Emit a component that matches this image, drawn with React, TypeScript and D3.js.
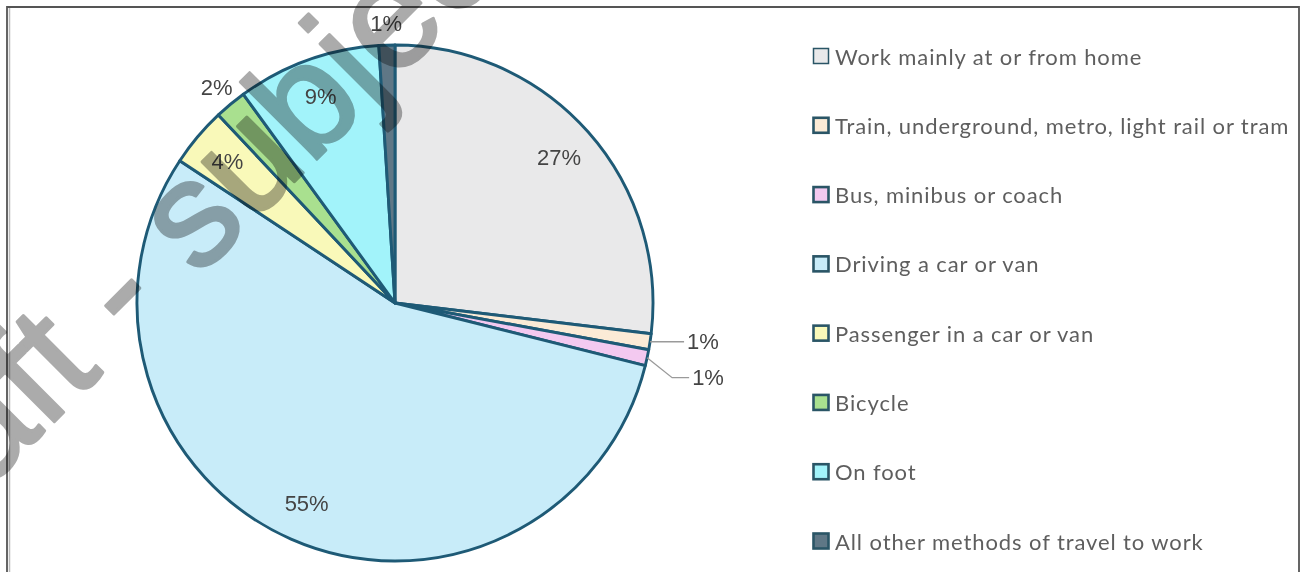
import React from "react";
import * as d3 from "d3";

const categories = [
  "Work mainly at or from home",
  "Train, underground, metro, light rail or tram",
  "Bus, minibus or coach",
  "Driving a car or van",
  "Passenger in a car or van",
  "Bicycle",
  "On foot",
  "All other methods of travel to work",
];
const values = [26.9, 1.0, 1.0, 55.4, 3.7, 2.0, 9.0, 1.0];
const pctLabels = ["27%", "1%", "1%", "55%", "4%", "2%", "9%", "1%"];
const colors = ["#e9e9ea", "#fbebd6", "#f3c9f0", "#c8ecf9", "#f9f9b9", "#a9e08f", "#a2f3fa", "#5f7786"];

const W = 1304;
const H = 572;
const CX = 395;
const CY = 303;
const R = 258;

export default function App() {
  const data = categories.map((c, i) => ({ c, v: values[i], label: pctLabels[i], color: colors[i], i }));
  const pie = d3.pie<any>().sort(null).value((d: any) => d.v).startAngle(0).endAngle(2 * Math.PI);
  const arcs = pie(data);
  const arc = d3.arc<any>().innerRadius(0).outerRadius(R);
  const inLabel = d3.arc<any>().innerRadius(R * 0.85).outerRadius(R * 0.85);
  const outLabel = d3.arc<any>().innerRadius(R * 1.085).outerRadius(R * 1.085);
  const outside = new Set([5, 7]);
  const leader = new Set([1, 2]);

  const legendY = d3.scalePoint<number>().domain(d3.range(categories.length)).range([56, 541]);

  return (
    <svg width={W} height={H} style={{ position: "absolute", left: 0, top: 0, background: "#fff" }} fontFamily="'Liberation Sans', Arial, sans-serif">
      <rect x={0} y={0} width={W} height={H} fill="#fff" />
      <path d={`M7,${H} V7 H1299 V${H}`} fill="none" stroke="#555" strokeWidth={1.8} />
      <line x1={9.5} y1={8} x2={9.5} y2={H} stroke="#bbb" strokeWidth={1.5} />
      <g transform={`translate(${CX},${CY})`}>
        {arcs.map((a, k) => (
          <path key={k} d={arc(a) as string} fill={a.data.color} stroke="#1e5a76" strokeWidth={2.9} strokeLinejoin="round" />
        ))}
        {arcs.map((a, k) => {
          if (leader.has(a.data.i)) return null;
          const [x, y] = outside.has(a.data.i) ? outLabel.centroid(a) : inLabel.centroid(a);
          return (
            <text key={"l" + k} x={x} y={y} textAnchor="middle" dominantBaseline="central" fontSize={22} fill="#444">
              {a.data.label}
            </text>
          );
        })}
        {arcs.filter((a) => leader.has(a.data.i)).map((a, k) => {
          const mid = (a.startAngle + a.endAngle) / 2;
          const ex = R * Math.sin(mid);
          const ey = -R * Math.cos(mid);
          const ly = k === 0 ? ey : ey + 20;
          const elbowX = k === 0 ? ex : ex + 25;
          const endX = k === 0 ? ex + 34 : ex + 42;
          return (
            <g key={"ld" + k}>
              <polyline points={`${ex},${ey} ${elbowX},${ly} ${endX},${ly}`} fill="none" stroke="#9a9a9a" strokeWidth={1.3} />
              <text x={endX + 3} y={ly} dominantBaseline="central" fontSize={22} fill="#444">
                {a.data.label}
              </text>
            </g>
          );
        })}
      </g>
      <g fontFamily="Lato, 'Open Sans', sans-serif">
        {categories.map((c, i) => (
          <g key={c} transform={`translate(813,${legendY(i)})`}>
            <rect x={0.5} y={-7.5} width={15} height={15} fill={colors[i]} stroke="#2a5566" strokeWidth={i === 0 ? 1.5 : 2.6} />
            <text x={22} y={0} dominantBaseline="central" fontSize={22} fill="#5e5e5e" letterSpacing={0.9}>
              {c}
            </text>
          </g>
        ))}
      </g>
      <text
        transform={`translate(-126,602) rotate(-45)`}
        fontSize={150}
        fill="#ababab"
        stroke="#ababab"
        strokeWidth={3}
        strokeLinejoin="round"
        style={{ mixBlendMode: "multiply" }}
        fontFamily="'Liberation Sans', Arial, sans-serif"
      >
        Draft - subject to change
      </text>
    </svg>
  );
}
